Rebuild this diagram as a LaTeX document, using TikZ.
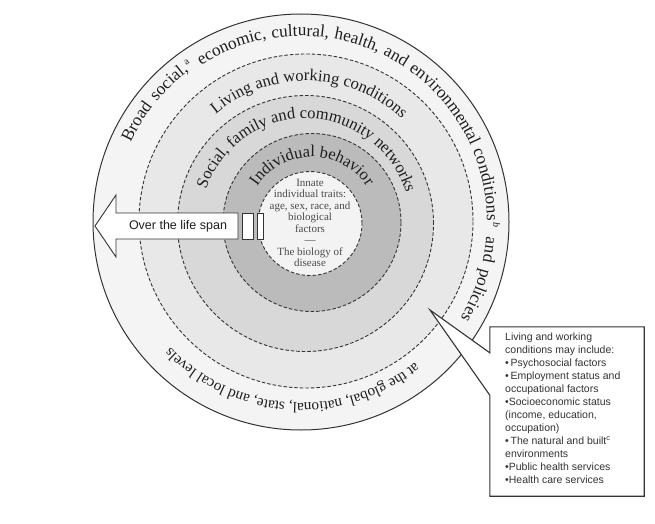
\documentclass[tikz,border=0pt]{standalone}
\usepackage{fontspec}
\setmainfont{Liberation Serif}
\newfontfamily\boxsans{Liberation Sans}
\usetikzlibrary{decorations.text,calc}
\newcommand\ringfont{\fontsize{16.5}{16.5}\selectfont}
\newcommand\outfont{\fontsize{17.2}{17.2}\selectfont}
\newcommand\lowfont{\fontsize{15.2}{15.2}\selectfont}
\newcommand\supfont{\fontsize{10}{10}\selectfont}
\definecolor{bandA}{HTML}{F4F4F4}
\definecolor{bandB}{HTML}{E8E8E8}
\definecolor{bandC}{HTML}{D8D8D8}
\definecolor{bandD}{HTML}{BBBBBB}
\definecolor{coreE}{HTML}{F3F3F3}
\definecolor{ink}{HTML}{1E1E1E}
\definecolor{linec}{HTML}{333333}
\definecolor{greytext}{HTML}{4A4A4A}
\tikzset{
  dashring/.style={draw=linec, line width=0.9pt, dash pattern=on 3.5pt off 2pt},
  solidring/.style={draw=linec, line width=1pt},
  ringtext/.style={decorate, decoration={text along path, text color=ink, text={#1}, text align=center}},
  ringfit/.style={decorate, decoration={text along path, text color=ink, text={#1}, text align={fit to path stretching spaces}}},
  supnode/.style={font=\supfont, text=ink, inner sep=0pt, anchor=base west},
  arrowshape/.style={draw=linec, fill=white, line width=0.9pt, line join=miter},
  callout/.style={draw=linec, fill=white, line width=1.1pt},
}
\begin{document}
\begin{tikzpicture}[x=1pt,y=1pt]
\useasboundingbox (0,0) rectangle (655,523);
\fill[white] (0,0) rectangle (655,523);
% centres
\coordinate (c0) at (301,301);
\coordinate (c1) at (306,302);
\coordinate (c2) at (305.5,299.5);
\coordinate (c3) at (312,300.5);
\coordinate (c4) at (310,299.5);
% rings
\path[fill=bandA, solidring] (c0) circle (208);
\path[fill=bandB, dashring] (c1) circle (167);
\path[fill=bandC, dashring] (c2) circle (128);
\path[fill=bandD, dashring] (c3) circle (89);
\path[fill=coreE, dashring] (c4) circle (52);
% outer top text in three segments with superscripts
\path[ringfit={|\outfont|Broad social,}] ($(c0)+(155:188)$) arc[start angle=155, end angle=126.6, radius=188];
\node[supnode, rotate=126.3-90] (supa) at ($(c0)+(126.3:194)$) {a};
\path[ringfit={|\outfont|economic, cultural, health, and environmental conditions}] ($(c0)+(122.5:186)$) arc[start angle=122.5, end angle=0.4, radius=186];
\node[supnode, rotate=-90] (supb) at ($(c0)+(0:192)$) {\itshape b};
\path[ringfit={|\outfont|and policies}] ($(c0)+(-4.6:186)$) arc[start angle=-4.6, end angle=-31, radius=186];
% outer bottom text (upside down)
\path[ringtext={|\lowfont|at the global, national, state, and local levels}] ($(c0)+(-8.5:181)$) arc[start angle=-8.5, end angle=-178.5, radius=181];
% ring texts
\path[ringtext={|\ringfont|Living and working conditions}] ($(c1)+(178.5:140)$) arc[start angle=178.5, end angle=-1.5, radius=140];
\path[ringtext={|\ringfont|Social, family and community networks}] ($(c2)+(179:105)$) arc[start angle=179, end angle=-1, radius=105];
\path[ringtext={|\ringfont|Individual behavior}] ($(c3)+(175:65.5)$) arc[start angle=175, end angle=5, radius=65.5];
% inner text
\node[align=center, text=greytext, font=\fontsize{11}{11.5}\selectfont, inner sep=0pt] (core) at (310,300)
  {Innate\\individual traits:\\age, sex, race, and\\biological\\factors\\---\\The biology of\\disease};
% arrow
\coordinate (tip) at (95,297);
\path[arrowshape] (tip) -- (116,328) -- (116,310) -- (238,310) -- (238,284) -- (116,284) -- (116,266) -- cycle;
\node[font=\boxsans\fontsize{12.5}{12.5}\selectfont, text=ink, inner sep=0pt] (span) at (178,297) {Over the life span};
\path[arrowshape] (242,284) rectangle (253,310);
\path[arrowshape] (257,284) rectangle (263,310);
% callout
\node[minimum width=154pt, minimum height=169pt, inner sep=0pt] (box) at (567,111.5) {};
\coordinate (ptr) at (430,213);
\path[callout] (box.north west) -- (box.north east) -- (box.south east) -- (box.south west)
  -- ([yshift=101pt]box.south west) -- (ptr) -- ([yshift=-26pt]box.north west) -- cycle;
\node[anchor=north west, align=left, inner sep=0pt, text=linec,
      font=\boxsans\fontsize{10.5}{13}\selectfont] (boxtext) at (505,190)
  {Living and working\\conditions may include:\\\textbullet\,Psychosocial factors\\\textbullet\,Employment status and\\occupational factors\\\textbullet Socioeconomic status\\(income, education,\\occupation)\\\textbullet\,The natural and built\textsuperscript{c}\\environments\\\textbullet Public health services\\\textbullet Health care services};
\end{tikzpicture}
\end{document}
